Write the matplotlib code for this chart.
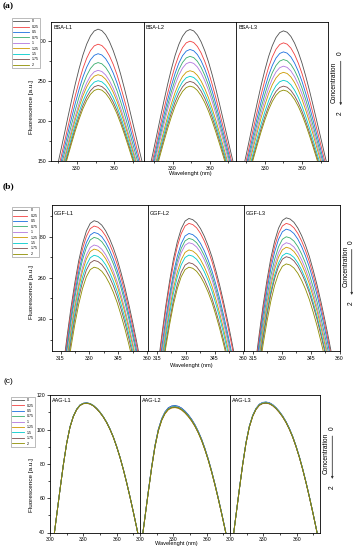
import numpy as np
import matplotlib
matplotlib.use('Agg')
import matplotlib.pyplot as plt
from matplotlib.ticker import MultipleLocator

plt.rcParams['font.family'] = ['Liberation Sans', 'DejaVu Sans']

conc = ['0', '0.25', '0.5', '0.75', '1', '1.25', '1.5', '1.75', '2']
colors = ['#515151', '#F14040', '#1A6FDF', '#37AD6B', '#B177DE',
          '#CC9900', '#00CBCC', '#7D4E4E', '#8E8E00']

# (a) BSA - normalised spectrum shape (offset from peak, nm) and peak heights
bsa_names = ['BSA-L1', 'BSA-L2', 'BSA-L3']
bsa_dw = [-36, -33, -30, -27, -24, -21, -18, -15, -12, -9, -6, -3, 0,
          3, 6, 9, 12, 15, 18, 21, 24, 27, 30, 33, 36, 39]
bsa_shape = [0.375, 0.4385, 0.506, 0.576, 0.647, 0.716, 0.7825, 0.843, 0.897,
             0.9405, 0.973, 0.993, 1.0, 0.9945, 0.978, 0.951, 0.915, 0.871,
             0.819, 0.762, 0.701, 0.638, 0.575, 0.5115, 0.450, 0.392]
bsa_center = [347, 344, 345]
bsa_peak = [[315.0, 296.2, 284.3, 273.2, 263.5, 258.0, 250.5, 244.6, 240.0],
            [314.6, 300.0, 289.6, 281.0, 273.7, 263.0, 256.0, 249.6, 243.7],
            [312.9, 297.9, 286.6, 277.0, 268.7, 261.0, 251.0, 243.7, 238.7]]

# (b) GGF
ggf_names = ['GGF-L1', 'GGF-L2', 'GGF-L3']
ggf_dw = [-24, -22, -20, -18, -16, -14, -12, -10, -8, -6, -4, -2, 0,
          2, 4, 6, 8, 10, 12, 14, 16, 18, 20, 22, 24, 26, 28, 30, 32]
ggf_shape = [0.529, 0.586, 0.643, 0.699, 0.754, 0.805, 0.853, 0.895, 0.932,
             0.961, 0.9825, 0.9956, 1.0, 0.998, 0.9925, 0.983, 0.970, 0.954,
             0.935, 0.912, 0.887, 0.859, 0.829, 0.797, 0.763, 0.728, 0.692,
             0.655, 0.618]
ggf_center = [332.4, 331.7, 332.3]
ggf_peak = [[287.8, 285.2, 282.1, 279.7, 276.0, 274.0, 271.0, 268.5, 265.2],
            [288.9, 286.5, 281.6, 279.2, 277.1, 273.6, 271.1, 267.4, 265.2],
            [289.2, 286.5, 283.7, 280.0, 277.1, 274.9, 272.0, 270.3, 266.8]]

# (c) AAG
aag_names = ['AAG-L1', 'AAG-L2', 'AAG-L3']
aag_dw = [-33, -30, -27, -24, -21, -18, -15, -12, -9, -6, -3, 0, 3, 6, 9,
          12, 15, 18, 21, 24, 27, 30, 33, 36, 39, 42, 45, 48, 51]
aag_shape = [0.173, 0.303, 0.433, 0.563, 0.688, 0.797, 0.879, 0.933, 0.968,
             0.989, 0.998, 1.0, 0.9965, 0.987, 0.972, 0.953, 0.930, 0.902,
             0.868, 0.828, 0.780, 0.726, 0.665, 0.598, 0.526, 0.450, 0.371,
             0.289, 0.207]
aag_center = [333.0, 331.5, 332.4]
aag_peak = [[115.6, 115.5, 115.6, 115.4, 115.5, 115.4, 115.5, 115.3, 115.4],
            [113.9, 113.5, 114.0, 113.3, 113.6, 112.8, 113.4, 113.0, 113.2],
            [116.0, 115.6, 116.1, 115.8, 115.9, 115.5, 115.7, 115.4, 115.6]]

W, H = 358, 550
fig = plt.figure(figsize=(W / 100, H / 100), dpi=100)


def fx(px):
    return px / W


def fy(py):
    return 1 - py / H


def draw_row(left, right, top, bottom, names, dw, shape, centers, peaks,
             xlims, ylim, xmaj, xmin, ymaj, ymin, title_dy):
    w = (right - left) / 3
    axes = []
    for i in range(3):
        ax = fig.add_axes([fx(left + i * w), fy(bottom), w / W, (bottom - top) / H])
        for j in range(len(conc)):
            x = np.array(dw) + centers[i]
            y = np.array(shape) * peaks[i][j]
            ax.plot(x, y, color=colors[j], lw=0.6, label=conc[j])
        ax.set_xlim(xlims[i])
        ax.set_ylim(ylim)
        ax.xaxis.set_major_locator(MultipleLocator(xmaj))
        ax.xaxis.set_minor_locator(MultipleLocator(xmin))
        ax.tick_params(axis='both', which='major', direction='out', length=2,
                       width=0.5, labelsize=3.7, pad=1.5)
        ax.tick_params(axis='both', which='minor', direction='out', length=1.2,
                       width=0.5)
        if i == 0:
            ax.yaxis.set_major_locator(MultipleLocator(ymaj))
            ax.yaxis.set_minor_locator(MultipleLocator(ymin))
        else:
            ax.set_yticks([])
            ax.set_yticks([], minor=True)
        for s in ax.spines.values():
            s.set_linewidth(0.6)
        ax.text(0.025, 1 - title_dy / (bottom - top), names[i], transform=ax.transAxes,
                fontsize=4, ha='left', va='center')
        axes.append(ax)
    return axes


ax_a = draw_row(51.3, 328, 22, 161, bsa_names, bsa_dw, bsa_shape, bsa_center,
                bsa_peak, [(310, 383), (306.5, 381), (306.5, 381)], (150, 324),
                30, 15, 50, 25, 5.5)
ax_b = draw_row(51.5, 340, 205.3, 350.7, ggf_names, ggf_dw, ggf_shape, ggf_center,
                ggf_peak, [(310.3, 360.2)] * 3, (224.6, 295.3),
                15, 7.5, 20, 10, 8)
ax_c = draw_row(50, 320, 395.3, 532.5, aag_names, aag_dw, aag_shape, aag_center,
                aag_peak, [(300, 381)] * 3, (40, 120),
                30, 15, 20, 10, 5.7)

# legends
for axes, (lx, ly), hl in [(ax_a, (12.3, 18.3), 4.2), (ax_b, (12.3, 207.3), 3.8),
                           (ax_c, (11, 397), 3.2)]:
    h, l = axes[0].get_legend_handles_labels()
    lg = fig.legend(h, l, loc='upper left', bbox_to_anchor=(fx(lx), fy(ly)),
                    bbox_transform=fig.transFigure, fontsize=2.6, frameon=True,
                    fancybox=False, edgecolor='#888888', framealpha=1,
                    borderaxespad=0, borderpad=0.3, handlelength=hl,
                    handletextpad=1.0, labelspacing=0.4)
    lg.get_frame().set_linewidth(0.4)

# y labels, x labels, panel letters
for yc in [107, 291.7, 485]:
    fig.text(fx(32), fy(yc), 'Fluorescence [a.u.]', rotation=90,
             ha='center', va='center', fontsize=4.6)
for xc, yc in [(190, 174), (191, 365), (176, 544)]:
    fig.text(fx(xc), fy(yc), 'Wavelenght (nm)', ha='center', va='center', fontsize=4.1)

fig.text(fx(3), fy(6.5), '(a)', family='Liberation Serif', weight='bold',
         fontsize=6.8, ha='left', va='center')
fig.text(fx(3), fy(186.5), '(b)', family='Liberation Serif', weight='bold',
         fontsize=6.8, ha='left', va='center')
fig.text(fx(3), fy(381.5), '(c)', fontsize=6, ha='left', va='center')

# concentration arrows
for tx, ax0, y0, ymid, y2 in [(334, 340.7, 53.5, 82, 113),
                              (345.7, 351.7, 241.7, 266.7, 302.7),
                              (325.7, 332.3, 428.3, 453, 486.7)]:
    fig.text(fx(tx), fy(ymid), 'Concentration', rotation=90, ha='center',
             va='center', fontsize=4.8)
    fig.text(fx(ax0), fy(y0), '0', rotation=90, ha='center', va='center', fontsize=4.8)
    fig.text(fx(ax0), fy(y2), '2', rotation=90, ha='center', va='center', fontsize=4.8)
    fig.add_artist(matplotlib.patches.FancyArrowPatch(
        (fx(ax0), fy(y0 + 5)), (fx(ax0), fy(y2 - 5)), transform=fig.transFigure,
        arrowstyle='-|>', mutation_scale=3, lw=0.6, color='#333333'))

fig.savefig('out.png', dpi=100)
